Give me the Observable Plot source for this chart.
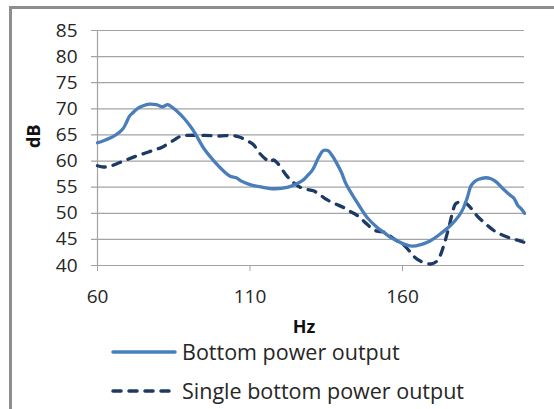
<!DOCTYPE html>
<html>
<head>
<meta charset="utf-8">
<script src="https://cdn.jsdelivr.net/npm/d3@7"></script>
<script src="https://cdn.jsdelivr.net/npm/@observablehq/plot@0.6"></script>
<style>
  html, body { margin: 0; padding: 0; background: #fff; }
  #wrap { position: relative; width: 554px; height: 409px; overflow: hidden; font-family: "Open Sans", sans-serif; }
  #frame { position: absolute; left: 9px; top: 6px; width: 700px; height: 600px; border-left: 3px solid #8e8e8e; border-top: 3px solid #8e8e8e; box-sizing: border-box; }
  #chart { position: absolute; left: 0; top: 0; }
  .leg { position: absolute; left: 111px; height: 22px; line-height: 22px; display: flex; align-items: center; font-size: 21.5px; color: #262626; white-space: nowrap; }
  .leg svg { margin-right: 5px; }
</style>
</head>
<body>
<div id="wrap">
  <div id="frame"></div>
  <div id="chart"></div>
  <div class="leg" id="leg1" style="top:341px"></div>
  <div class="leg" id="leg2" style="top:380px"></div>
</div>
<script>
// ---- data ----
const seriesNames = ["Bottom power output", "Single bottom power output"];
const xTicks = [60, 110, 160];
const yTicks = [40, 45, 50, 55, 60, 65, 70, 75, 80, 85];

const bottomHz = [60, 62, 64.5, 66, 67.2, 68.5, 69.4, 70.5, 71.5, 73.2, 75, 77, 79.3, 81.4, 83, 84.5, 86, 88.5, 90.5, 92, 95, 98.5, 101.5, 103.5, 105.5, 107, 110, 114, 118, 122.5, 125.5, 127.5, 129, 130.5, 132.5, 134, 135.5, 137, 138.5, 140, 141.5, 145, 148.4, 151.7, 154, 156, 158, 160.5, 163, 166, 169, 172.5, 175.8, 178.5, 179.8, 181.3, 182.4, 183.5, 185, 187.3, 189, 190.5, 193.3, 195, 196.5, 197.8, 199, 200];
const bottomDb = [63.5, 63.9, 64.5, 65.0, 65.5, 66.3, 67.3, 68.6, 69.2, 70.1, 70.6, 70.9, 70.8, 70.4, 70.8, 70.3, 69.6, 68.1, 66.6, 65.3, 62.3, 59.8, 58.0, 57.1, 56.8, 56.2, 55.5, 55.0, 54.7, 55.0, 55.7, 56.4, 57.3, 58.3, 60.7, 62.0, 62.0, 61.0, 59.5, 57.8, 55.6, 52.2, 49.2, 47.3, 46.3, 45.4, 44.8, 44.1, 43.7, 44.0, 44.7, 46.1, 47.7, 49.5, 50.8, 53.1, 55.2, 56.0, 56.5, 56.8, 56.6, 56.1, 54.5, 53.6, 52.9, 51.5, 50.8, 50.0];

const singleHz = [60, 61.5, 63.5, 66, 69, 72, 75.5, 79, 81, 83, 85.3, 87, 89, 95, 100, 104, 106.5, 109, 111, 113.3, 115.5, 116.6, 117.7, 119, 122, 124, 126.4, 128.5, 130.8, 133, 135.2, 138, 140.7, 143, 145.1, 146.5, 148.4, 150.6, 152.5, 153.9, 156, 158.2, 160.3, 162.5, 164, 166, 168, 169.5, 171, 172.2, 173.6, 175.2, 176.3, 177.4, 179, 180.3, 181.5, 183, 184.6, 187, 189, 191, 193.3, 196, 198, 200];
const singleDb = [59.1, 58.9, 58.9, 59.4, 60.1, 60.8, 61.5, 62.2, 62.6, 63.3, 64.1, 64.7, 64.9, 64.9, 64.8, 64.9, 64.6, 63.9, 63.2, 61.4, 60.2, 59.8, 60.2, 59.6, 57.2, 56.0, 55.0, 54.6, 54.3, 53.5, 52.6, 51.8, 51.1, 50.3, 49.6, 48.9, 47.9, 46.8, 46.5, 46.4, 45.6, 44.7, 44.0, 42.6, 41.6, 40.8, 40.4, 40.3, 40.7, 41.7, 44.0, 47.3, 49.9, 51.8, 52.2, 52.1, 51.6, 50.6, 49.4, 48.1, 47.1, 46.3, 45.7, 45.1, 44.8, 44.4];

const colors = ["#4A7EBB", "#1C3A64"];
const dash = "8,8";

const bottom = bottomHz.map((x, i) => ({x, y: bottomDb[i]}));
const single = singleHz.map((x, i) => ({x, y: singleDb[i]}));

const gridColor = "#a3a3a3";
const textColor = "#262626";

const chart = Plot.plot({
  width: 554,
  height: 340,
  marginLeft: 97,
  marginRight: 30,
  marginTop: 30,
  marginBottom: 75,
  style: {fontFamily: "Open Sans", background: "transparent", overflow: "visible"},
  x: {domain: [60, 200]},
  y: {domain: [40, 85], axis: null},
  marks: [
    Plot.ruleY(yTicks, {stroke: gridColor, strokeWidth: 1.2, insetLeft: -6}),
    Plot.ruleX([60], {stroke: gridColor, strokeWidth: 1.2}),
    Plot.axisX({ticks: xTicks, tickSize: 6, tickFormat: () => "", color: gridColor, label: null}),
    Plot.text(yTicks, {y: d => d, text: d => String(d), frameAnchor: "left", dx: -20, textAnchor: "end", fontSize: 19, fill: textColor}),
    Plot.text(xTicks, {x: d => d, text: d => String(d), frameAnchor: "bottom", dy: 31, lineAnchor: "middle", fontSize: 19, fill: textColor}),
    Plot.text(["dB"], {text: d => d, frameAnchor: "left", dx: -63, rotate: -90, fontSize: 18, fontWeight: "bold", fill: "#111"}),
    Plot.text(["Hz"], {text: d => d, frameAnchor: "bottom", dx: -7, dy: 62, lineAnchor: "middle", fontSize: 18, fontWeight: "bold", fill: "#111"}),
    Plot.line(single, {x: "x", y: "y", stroke: colors[1], strokeWidth: 3.3, strokeDasharray: dash, strokeLinecap: "round", curve: "catmull-rom"}),
    Plot.line(bottom, {x: "x", y: "y", stroke: colors[0], strokeWidth: 3.3, curve: "catmull-rom"})
  ]
});
document.getElementById("chart").appendChild(chart);

function swatch(color, dashed) {
  const ns = "http://www.w3.org/2000/svg";
  const s = document.createElementNS(ns, "svg");
  s.setAttribute("width", 66); s.setAttribute("height", 10);
  const l = document.createElementNS(ns, "line");
  l.setAttribute("x1", 2); l.setAttribute("x2", 64); l.setAttribute("y1", 5); l.setAttribute("y2", 5);
  l.setAttribute("stroke", color); l.setAttribute("stroke-width", 3.5);
  l.setAttribute("stroke-linecap", "round");
  if (dashed) l.setAttribute("stroke-dasharray", dash);
  s.appendChild(l);
  return s;
}
[["leg1", 0, false], ["leg2", 1, true]].forEach(([id, i, d]) => {
  const el = document.getElementById(id);
  el.appendChild(swatch(colors[i], d));
  const t = document.createElement("span");
  t.textContent = seriesNames[i];
  el.appendChild(t);
});
</script>
</body>
</html>
